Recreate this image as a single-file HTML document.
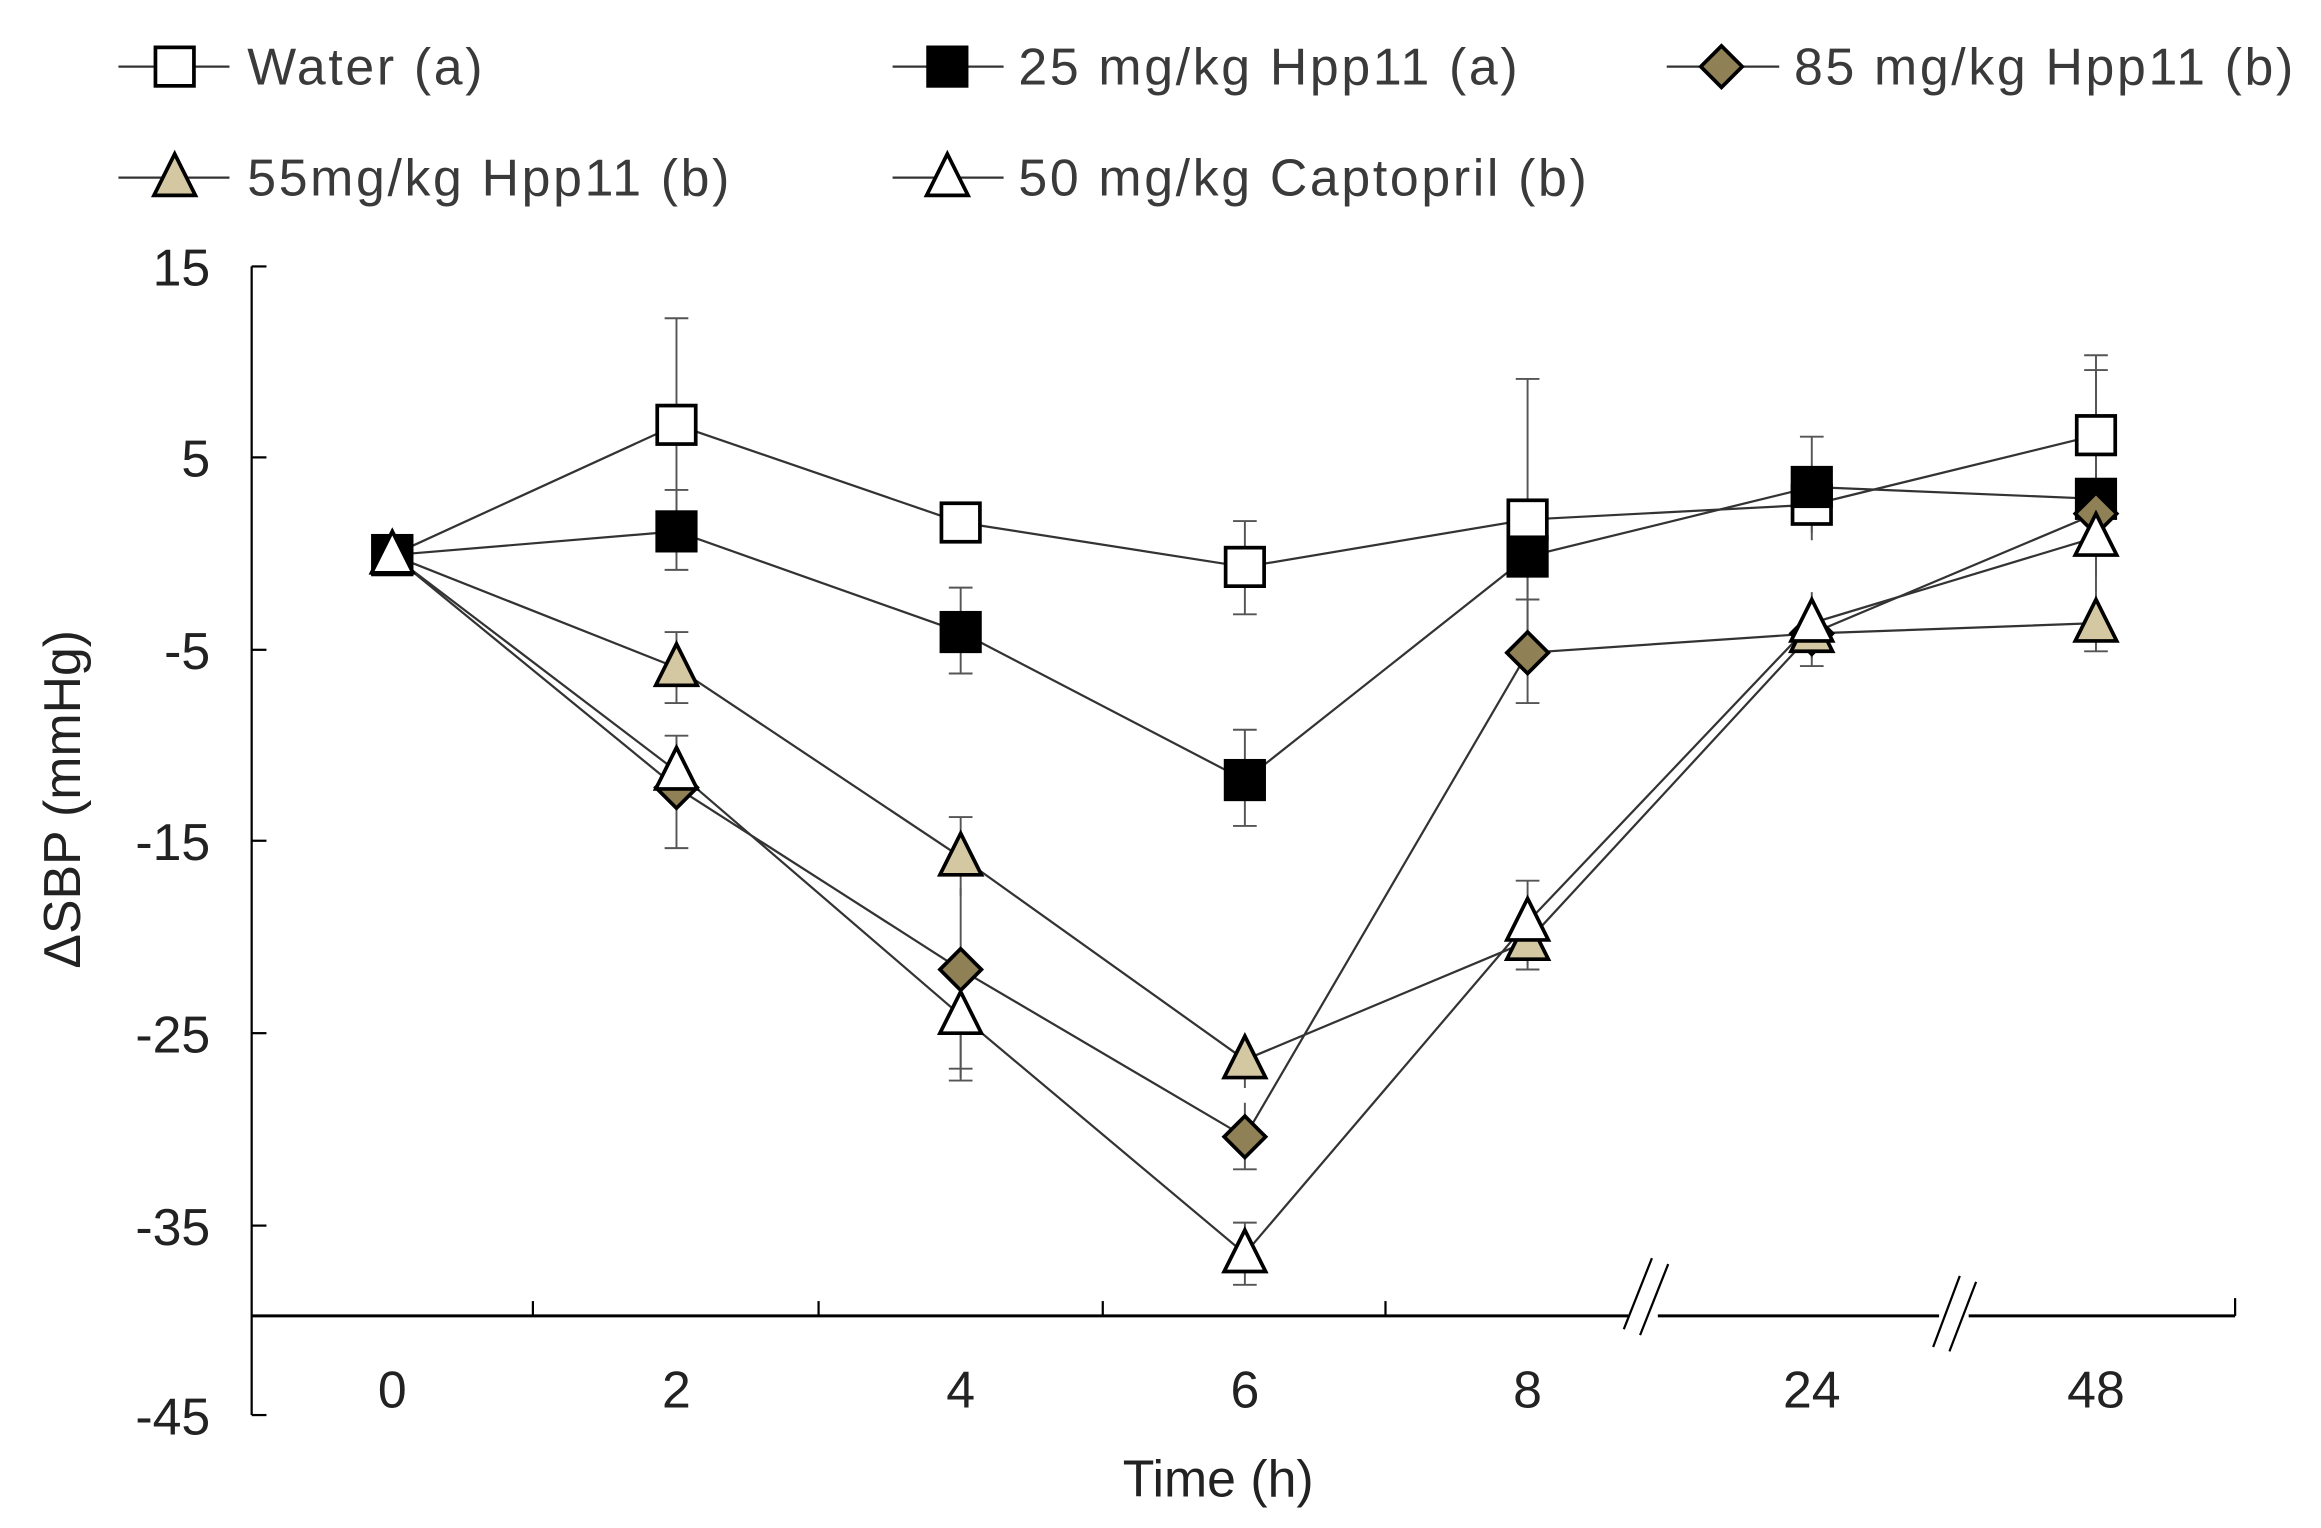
<!DOCTYPE html>
<html><head><meta charset="utf-8"><style>html,body{margin:0;padding:0;background:#fff}svg{display:block}</style></head>
<body>
<svg width="2321" height="1528" viewBox="0 0 1568 1032.3" xmlns="http://www.w3.org/2000/svg" font-family="Liberation Sans, Arial, sans-serif">
<defs>
<g id="sqo"><rect x="-13" y="-13" width="26" height="26" fill="#fff" stroke="#000" stroke-width="2.5"/></g>
<g id="sqf"><rect x="-13" y="-13" width="26" height="26" fill="#000" stroke="#000" stroke-width="2.5"/></g>
<g id="dia"><polygon points="0,-14 14,0 0,14 -14,0" fill="#8f8055" stroke="#000" stroke-width="2.5"/></g>
<g id="tri"><polygon points="0,-16 14,12 -14,12" fill="#d3c8a2" stroke="#000" stroke-width="2.5"/></g>
<g id="trio"><polygon points="0,-16 14,12 -14,12" fill="#fff" stroke="#000" stroke-width="2.5"/></g>
</defs>
<g font-size="35" fill="#3a3a3a" letter-spacing="1.8">
<line x1="80" y1="45" x2="155" y2="45" stroke="#333" stroke-width="1.5"/><use href="#sqo" x="118" y="45"/><text x="167" y="57">Water (a)</text>
<line x1="603" y1="45" x2="678" y2="45" stroke="#333" stroke-width="1.5"/><use href="#sqf" x="640" y="45"/><text x="688" y="57">25 mg/kg Hpp11 (a)</text>
<line x1="1126" y1="45" x2="1202" y2="45" stroke="#333" stroke-width="1.5"/><use href="#dia" x="1163" y="45"/><text x="1212" y="57">85 mg/kg Hpp11 (b)</text>
<line x1="80" y1="120" x2="155" y2="120" stroke="#333" stroke-width="1.5"/><use href="#tri" x="118" y="120"/><text x="167" y="132">55mg/kg Hpp11 (b)</text>
<line x1="603" y1="120" x2="678" y2="120" stroke="#333" stroke-width="1.5"/><use href="#trio" x="640" y="120"/><text x="688" y="132">50 mg/kg Captopril (b)</text>
</g>
<g stroke="#000" stroke-width="1.5" fill="none">
<line x1="170" y1="180" x2="170" y2="956"/>
<line x1="170" y1="180" x2="180" y2="180"/><line x1="170" y1="309" x2="180" y2="309"/><line x1="170" y1="439" x2="180" y2="439"/><line x1="170" y1="568" x2="180" y2="568"/><line x1="170" y1="698" x2="180" y2="698"/><line x1="170" y1="828" x2="180" y2="828"/><line x1="170" y1="956" x2="180" y2="956"/>
<line x1="170" y1="889" x2="1100" y2="889" stroke-width="2"/><line x1="1120" y1="889" x2="1310" y2="889" stroke-width="2"/><line x1="1330" y1="889" x2="1510" y2="889" stroke-width="2"/>
<line x1="360" y1="879" x2="360" y2="889"/><line x1="553" y1="879" x2="553" y2="889"/><line x1="745" y1="879" x2="745" y2="889"/><line x1="936" y1="879" x2="936" y2="889"/><line x1="1510" y1="877" x2="1510" y2="889"/>
<line x1="1097" y1="898" x2="1116" y2="850"/><line x1="1108" y1="902" x2="1127" y2="854"/>
<line x1="1306" y1="910" x2="1324" y2="862"/><line x1="1317" y1="913" x2="1335" y2="866"/>
</g>
<g font-size="35" fill="#222" text-anchor="end">
<text x="142" y="193">15</text><text x="142" y="322">5</text><text x="142" y="452">-5</text><text x="142" y="581">-15</text><text x="142" y="711">-25</text><text x="142" y="841">-35</text><text x="142" y="969">-45</text>
</g>
<g font-size="35" fill="#222" text-anchor="middle">
<text x="265" y="951">0</text><text x="457" y="951">2</text><text x="649" y="951">4</text><text x="841" y="951">6</text><text x="1032" y="951">8</text><text x="1224" y="951">24</text><text x="1416" y="951">48</text>
<text x="823" y="1011">Time (h)</text>
<text transform="translate(54,540) rotate(-90)">ΔSBP (mmHg)</text>
</g>
<g stroke="#555" stroke-width="1.3">
<path d="M457 215V360M449 215h16M649 340V366M841 352V415M833 352h16M833 415h16M1032 256V440M1024 256h16M1224 320V360M1416 240V345M1408 240h16"/>
<path d="M457 331V385M449 331h16M449 385h16M649 397V455M641 397h16M641 455h16M841 493V558M833 493h16M833 558h16M1032 350V405M1224 295V365M1216 295h16M1416 250V400M1408 250h16"/>
<path d="M457 500V573M449 573h16M649 600V730M641 730h16M841 745V790M833 790h16M1032 405V475M1024 405h16M1024 475h16M1224 410V445M1416 320V375"/>
<path d="M457 427V475M449 427h16M449 475h16M649 552V605M641 552h16M841 700V735M1032 620V655M1024 655h16M1224 405V450M1216 450h16M1416 400V440M1408 440h16"/>
<path d="M457 497V545M449 497h16M649 660V728M641 722h16M841 826V868M833 826h16M833 868h16M1032 595V652M1024 595h16M1224 400V440M1416 330V390"/>
</g>
<g fill="none" stroke="#333" stroke-width="1.5">
<polyline points="265,375 457,287 649,353 841,383 1032,351 1224,341 1416,294"/>
<polyline points="265,375 457,359 649,427 841,527 1032,376 1224,329 1416,337"/>
<polyline points="265,375 457,532 649,655 841,768 1032,441 1224,428 1416,347"/>
<polyline points="265,375 457,451 649,579 841,716 1032,636 1224,428 1416,421"/>
<polyline points="265,375 457,521 649,686 841,847 1032,623 1224,421 1416,363"/>
</g>
<g>
<use href="#sqo" x="265" y="375"/><use href="#sqo" x="457" y="287"/><use href="#sqo" x="649" y="353"/><use href="#sqo" x="841" y="383"/><use href="#sqo" x="1032" y="351"/><use href="#sqo" x="1224" y="341"/><use href="#sqo" x="1416" y="294"/>
<use href="#sqf" x="265" y="375"/><use href="#sqf" x="457" y="359"/><use href="#sqf" x="649" y="427"/><use href="#sqf" x="841" y="527"/><use href="#sqf" x="1032" y="376"/><use href="#sqf" x="1224" y="329"/><use href="#sqf" x="1416" y="337"/>
<use href="#dia" x="457" y="532"/><use href="#dia" x="649" y="655"/><use href="#dia" x="841" y="768"/><use href="#dia" x="1032" y="441"/><use href="#dia" x="1224" y="428"/><use href="#dia" x="1416" y="347"/>
<use href="#tri" x="457" y="451"/><use href="#tri" x="649" y="579"/><use href="#tri" x="841" y="716"/><use href="#tri" x="1032" y="636"/><use href="#tri" x="1224" y="428"/><use href="#tri" x="1416" y="421"/>
<use href="#trio" x="265" y="375"/><use href="#trio" x="457" y="521"/><use href="#trio" x="649" y="686"/><use href="#trio" x="841" y="847"/><use href="#trio" x="1032" y="623"/><use href="#trio" x="1224" y="421"/><use href="#trio" x="1416" y="363"/>
</g>
</svg>
</body></html>
